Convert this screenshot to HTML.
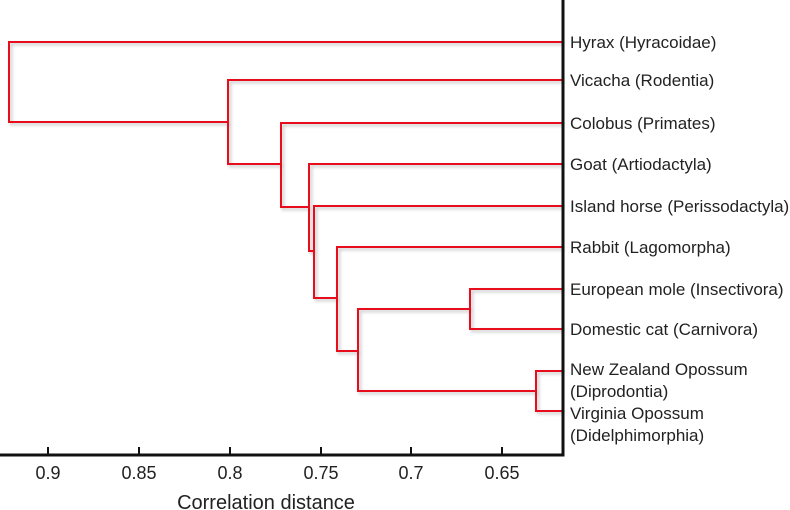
<!DOCTYPE html>
<html><head><style>
body{margin:0;background:#fff;}
svg{display:block;}
text{font-family:"Liberation Sans",sans-serif;fill:#222;}
</style></head><body>
<svg width="790" height="510" viewBox="0 0 790 510">
<defs><filter id="s" x="-5%" y="-5%" width="110%" height="110%"><feDropShadow dx="2" dy="2" stdDeviation="1.5" flood-color="#000" flood-opacity="0.25"/></filter></defs>
<g fill="none" stroke="#e8101a" stroke-width="2" filter="url(#s)">
<path d="M562,42 H9 V122 H228"/>
<path d="M562,80 H228 V164 H281"/>
<path d="M562,123 H281 V207 H309"/>
<path d="M562,164 H309 V251 H314"/>
<path d="M562,206 H314 V298 H337"/>
<path d="M562,247 H337 V351 H358"/>
<path d="M562,289 H470 V329 H562"/>
<path d="M470,309 H358 V391 H536"/>
<path d="M562,371 H536 V411 H562"/>
</g>
<g stroke="#111" stroke-width="3" fill="none">
<path d="M0,455 H563 V0"/>
</g>
<g stroke="#111" stroke-width="2">
<path d="M48,455 V447 M139,455 V447 M230,455 V447 M321,455 V447 M411,455 V447 M502,455 V447"/>
</g>
<g font-size="18" text-anchor="middle">
<text x="48" y="479">0.9</text>
<text x="139" y="479">0.85</text>
<text x="230" y="479">0.8</text>
<text x="321" y="479">0.75</text>
<text x="411" y="479">0.7</text>
<text x="502" y="479">0.65</text>
<text x="266" y="509" font-size="20">Correlation distance</text>
</g>
<g font-size="17">
<text x="570" y="48">Hyrax (Hyracoidae)</text>
<text x="570" y="86">Vicacha (Rodentia)</text>
<text x="570" y="129">Colobus (Primates)</text>
<text x="570" y="170">Goat (Artiodactyla)</text>
<text x="570" y="212">Island horse (Perissodactyla)</text>
<text x="570" y="253">Rabbit (Lagomorpha)</text>
<text x="570" y="295">European mole (Insectivora)</text>
<text x="570" y="335">Domestic cat (Carnivora)</text>
<text x="570" y="375">New Zealand Opossum</text>
<text x="570" y="397">(Diprodontia)</text>
<text x="570" y="419">Virginia Opossum</text>
<text x="570" y="441">(Didelphimorphia)</text>
</g>
</svg>
</body></html>
